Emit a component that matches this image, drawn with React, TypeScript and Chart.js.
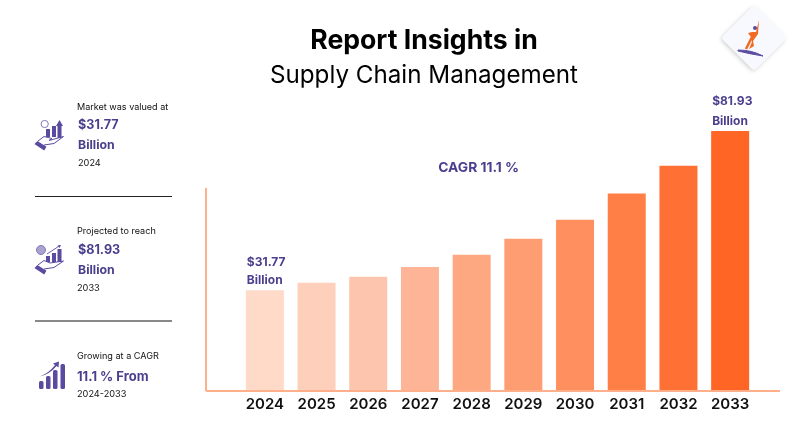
import React, { useEffect, useRef } from "react";
import { Chart, registerables } from "chart.js";

Chart.register(...registerables);

const years = ["2024", "2025", "2026", "2027", "2028", "2029", "2030", "2031", "2032", "2033"];
const marketValues = [31.77, 34.1, 36.0, 39.1, 42.9, 48.0, 54.0, 62.2, 71.0, 81.93];
const barColors = ["#FFDAC8", "#FED0BB", "#FDC5AD", "#FEB597", "#FEA882", "#FE9C72", "#FF8F5F", "#FF7F47", "#FF7035", "#FF6524"];

const PURPLE = "#4A3F8E";
const ICON = "#5B4BA0";
const FONT = "Inter, 'Liberation Sans', sans-serif";

const overlayPlugin = {
  id: "overlay",
  afterDatasetsDraw(chart: any) {
    const { ctx, scales } = chart;
    const xs = scales.x;
    const ys = scales.y;
    const base = ys.getPixelForValue(0);
    ctx.save();
    ctx.fillStyle = "#FFAF8A";
    ctx.fillRect(206, Math.round(base) - 1, 574, 2);
    ctx.fillRect(205, 188, 2, Math.round(base) - 188);

    const meta = chart.getDatasetMeta(0).data;
    ctx.fillStyle = PURPLE;
    ctx.font = `700 12px ${FONT}`;
    ctx.textAlign = "left";
    ctx.textBaseline = "middle";
    const label = (i: number, gap: number, spacing: number) => {
      const bar = meta[i];
      const left = bar.x - bar.width / 2;
      const top = ys.getPixelForValue(marketValues[i]);
      ctx.fillText("$" + marketValues[i].toFixed(2), left + 1, top - gap - spacing);
      ctx.fillText("Billion", left + 1, top - gap);
    };
    label(0, 10, 18);
    label(9, 9.5, 20);
    ctx.font = `700 13.8px ${FONT}`;
    ctx.textAlign = "center";
    ctx.fillText("CAGR 11.1 %", xs.getPixelForValue(4) + 7, 167.5);
    ctx.restore();
  },
};

function Txt(p: { x: number; y: number; size: number; weight?: number; color?: string; children: React.ReactNode }) {
  return (
    <div
      style={{
        position: "absolute",
        left: p.x,
        top: p.y,
        transform: "translateY(-50%)",
        fontFamily: FONT,
        fontSize: p.size,
        fontWeight: p.weight ?? 400,
        color: p.color ?? "#111",
        whiteSpace: "nowrap",
        lineHeight: 1,
      }}
    >
      {p.children}
    </div>
  );
}

function Decor() {
  return (
    <svg width={800} height={447} style={{ position: "absolute", left: 0, top: 0 }}>
      <defs>
        <filter id="sh" x="-30%" y="-30%" width="160%" height="160%">
          <feDropShadow dx="0" dy="1.5" stdDeviation="2" floodColor="#000" floodOpacity="0.22" />
        </filter>
      </defs>
      {/* logo */}
      <rect x={731} y={15} width={46} height={46} rx={4} fill="#F7F9FE" transform="rotate(45 754 38)" filter="url(#sh)" />
      <path d="M738 50 Q752 50 763 56 Q750 54 738 51Z" fill={ICON} stroke={ICON} strokeWidth={1} />
      <path d="M759 20 L758 34 L753 41 L754 46 L749 49 L752 42 L751 37 L748 33 L752 32 L756 32 Z" fill="#F26A21" />
      <path d="M752 37 L746 49" stroke="#F26A21" strokeWidth={2.5} />
      <circle cx={755} cy={28} r={2} fill={ICON} />

      {/* dividers */}
      <rect x={35} y={196} width={137} height={1} fill="#222" />
      <rect x={35} y={320} width={137} height={2} fill="#888" />

      {/* icon 1 */}
      <g fill={ICON} stroke="none">
        <circle cx={44.7} cy={124} r={3.6} fill="none" stroke="#8279B8" strokeWidth={1} />
        <rect x={46} y={129} width={4} height={8} />
        <rect x={52} y={126} width={4} height={11} />
        <rect x={57.5} y={125} width={4} height={13} />
        <path d="M59.5 120 L63 126 L56 126 Z" />
        <path d="M35.5 144 L37.5 142 L45.5 147 L44 149.5 Z" stroke={ICON} strokeWidth={1.4} />
        <path d="M38 141 L44 136.5 L52 138.5 L49 140.5 L63.5 136.5 L54 143.5 L44 145" fill="none" stroke={ICON} strokeWidth={1} />
      </g>
      {/* icon 2 */}
      <g fill={ICON} stroke="none">
        <circle cx={41} cy={250} r={4.5} fill="#A9A3D0" stroke="#8279B8" strokeWidth={1} />
        <rect x={46} y={256} width={4} height={6} />
        <rect x={52} y={253} width={4} height={9} />
        <rect x={57.5} y={249} width={4} height={13} />
        <path d="M47 254 L60 245.5" fill="none" stroke={ICON} strokeWidth={0.9} />
        <path d="M61 245 L57.5 245.5 L59.5 248 Z" />
        <path d="M35.5 268 L37.5 266 L45.5 271 L44 273.5 Z" stroke={ICON} strokeWidth={1.4} />
        <path d="M38 265 L44 260.5 L50 263 L63.5 261 L54 267.5 L44 269" fill="none" stroke={ICON} strokeWidth={1} />
      </g>
      {/* icon 3 */}
      <g fill={ICON} stroke="none">
        <rect x={39} y={381} width={4.5} height={8} rx={1.5} />
        <rect x={46} y={376} width={4.5} height={13} rx={1.5} />
        <rect x={53} y={370} width={4.5} height={19} rx={1.5} />
        <rect x={60.5} y={364} width={4.5} height={25} rx={1.5} />
        <path d="M40 376.5 Q49 373 55 365 L53 363.5 L59 361.5 L58.5 367.5 L56.5 366 Q50 374 40 376.5 Z" />
      </g>
    </svg>
  );
}

export default function App() {
  const ref = useRef<HTMLCanvasElement>(null);
  useEffect(() => {
    document.body.style.margin = "0";
    const chart = new Chart(ref.current!, {
      type: "bar",
      data: {
        labels: years,
        datasets: [{ data: marketValues, backgroundColor: barColors, barPercentage: 0.735, categoryPercentage: 1 }],
      },
      options: {
        responsive: false,
        animation: false,
        layout: { padding: { left: 239, right: 44, top: 105.4, bottom: 0 } },
        plugins: { legend: { display: false }, tooltip: { enabled: false }, title: { display: false } },
        scales: {
          x: {
            grid: { display: false },
            border: { display: false },
            ticks: { color: "#111", padding: -4, font: { family: FONT, size: 15, weight: "600" }, maxRotation: 0 },
            afterFit: (s: any) => {
              s.height = 56;
            },
          },
          y: { display: false, min: 0, max: 90 },
        },
      },
      plugins: [overlayPlugin],
    } as any);
    return () => chart.destroy();
  }, []);

  return (
    <div style={{ position: "fixed", left: 0, top: 0, width: 800, height: 447, background: "#fff", overflow: "hidden" }}>
      <canvas ref={ref} width={800} height={447} style={{ display: "block", position: "absolute", left: 0, top: 0 }} />
      <Decor />
      <div style={{ position: "absolute", left: 24, width: 800, top: 39, textAlign: "center", transform: "translateY(-50%)", fontFamily: FONT, fontSize: 26.6, fontWeight: 700, color: "#000", lineHeight: 1 }}>
        Report Insights in
      </div>
      <div style={{ position: "absolute", left: 24, width: 800, top: 75, textAlign: "center", transform: "translateY(-50%)", fontFamily: FONT, fontSize: 24.2, fontWeight: 400, color: "#000", lineHeight: 1 }}>
        Supply Chain Management
      </div>

      <Txt x={77} y={107} size={9.05}>Market was valued at</Txt>
      <Txt x={78} y={125} size={12.6} weight={700} color={PURPLE}>$31.77</Txt>
      <Txt x={78} y={144.5} size={12.3} weight={700} color={PURPLE}>Billion</Txt>
      <Txt x={78} y={163} size={9.2}>2024</Txt>

      <Txt x={77} y={231} size={9.1}>Projected to reach</Txt>
      <Txt x={78} y={250} size={12.6} weight={700} color={PURPLE}>$81.93</Txt>
      <Txt x={78} y={269.5} size={12.3} weight={700} color={PURPLE}>Billion</Txt>
      <Txt x={77} y={288} size={9.2}>2033</Txt>

      <Txt x={77} y={356} size={9.1}>Growing at a CAGR</Txt>
      <Txt x={77} y={375.5} size={13} weight={700} color={PURPLE}>11.1 % From</Txt>
      <Txt x={77} y={394} size={9.2}>2024-2033</Txt>
    </div>
  );
}
